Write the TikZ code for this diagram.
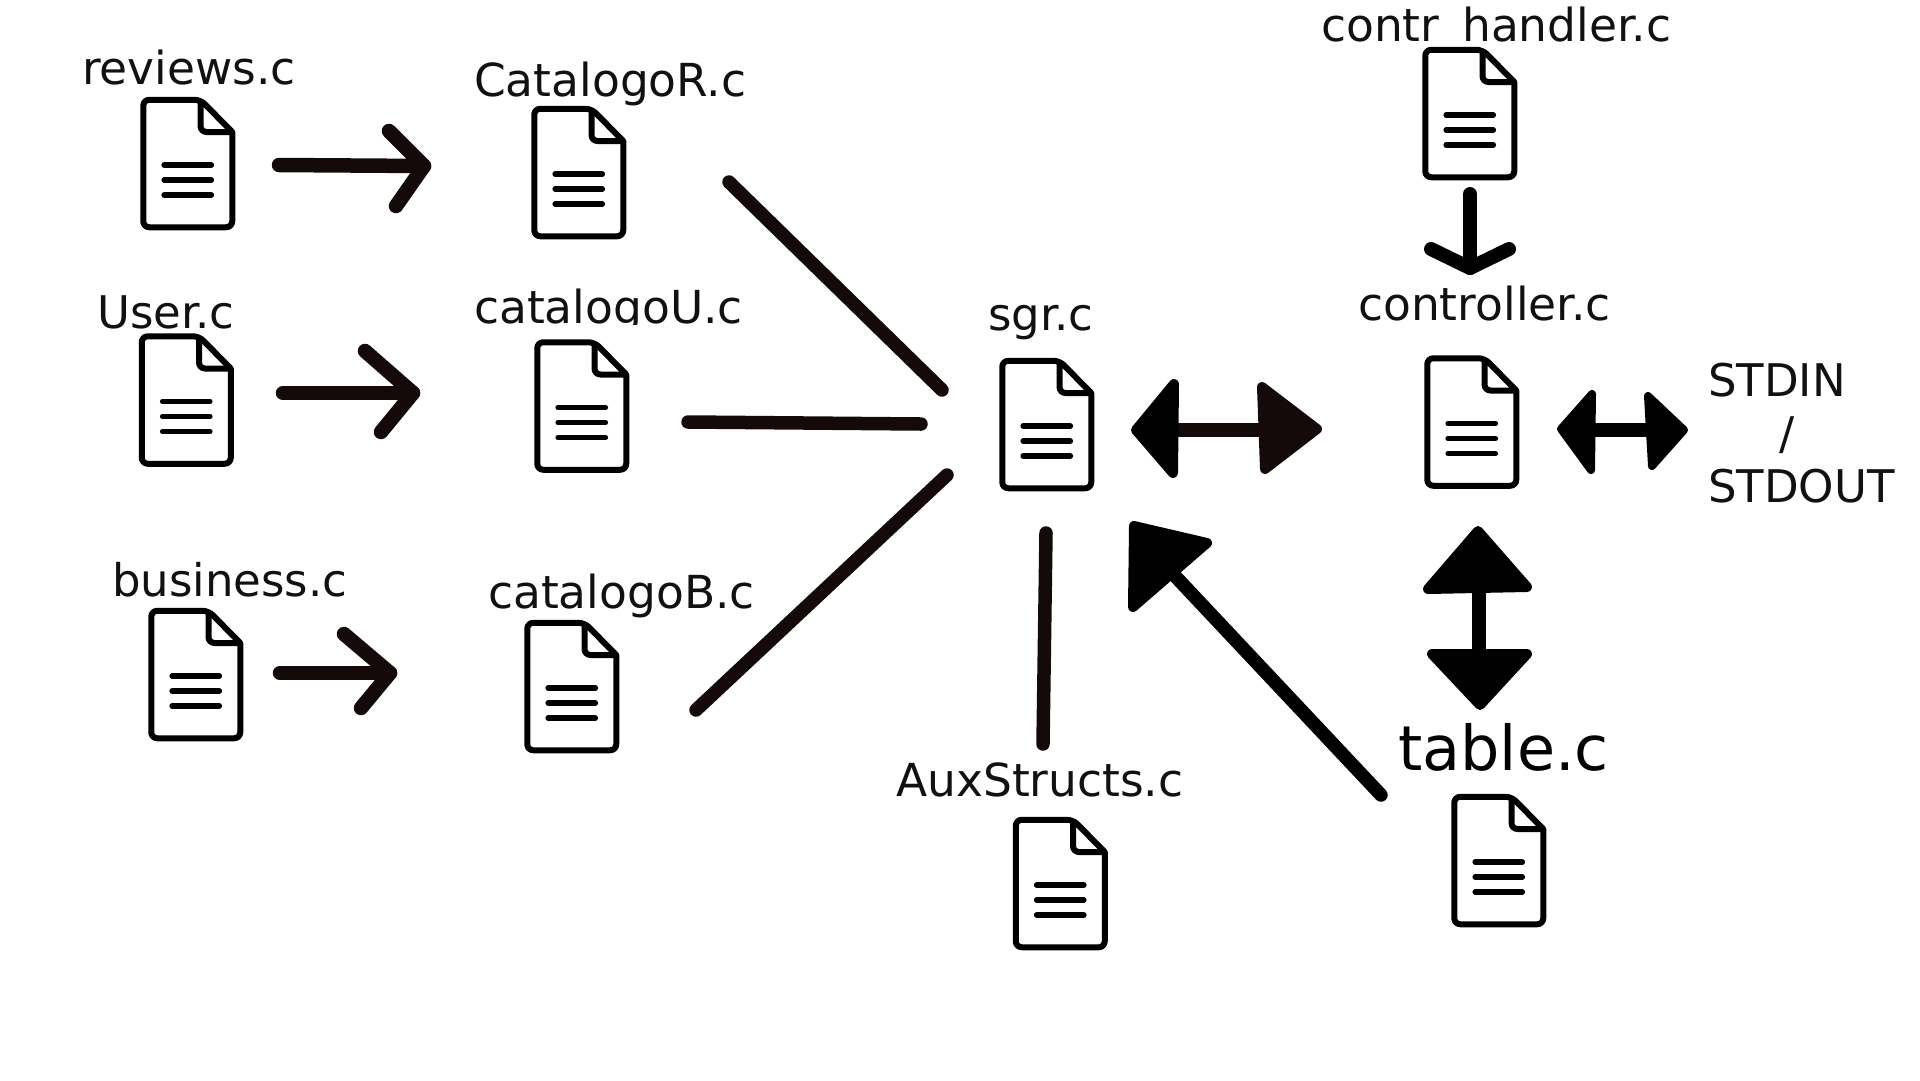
\documentclass[tikz,border=0pt]{standalone}
\usepackage{fontspec}
\setmainfont{DejaVu Sans}
\definecolor{ink}{HTML}{150A0A}
\definecolor{txt}{HTML}{111111}
\tikzset{
  docicon/.pic={
    \draw[fill=white,line width=6pt,rounded corners=6pt,line join=round]
      (91.75,35) -- (91.75,130.25) -- (2.75,130.25) -- (2.75,2.75) -- (60,2.75) [sharp corners] -- (91.75,35) -- cycle;
    \draw[line width=6pt,rounded corners=6pt] (60,3) -- (60,35) -- (91,35);
    \foreach \yy in {68,83,98} \draw[line width=5.2pt,line cap=round] (23.5,\yy) -- (71,\yy);
  },
  lbl/.style={inner sep=0pt,anchor=base west,text=txt,font=\fontsize{45.5}{54}\selectfont},
  lbls/.style={lbl,font=\fontsize{45}{54}\selectfont},
  thinarrow/.style={draw=ink,line width=14.5pt,line cap=round,line join=round},
  plainline/.style={draw=ink,line width=13.5pt,line cap=round},
  shaft/.style={draw=black,line width=13.5pt},
  headk/.style={draw=black,fill=black,line width=10pt,line join=round},
  headb/.style={draw=ink,fill=ink,line width=10pt,line join=round},
  mask/.style={fill=white,draw=none}
}
\begin{document}
\begin{tikzpicture}[x=1pt,y=-1pt]
\useasboundingbox (0,0) rectangle (1920,1080);
% labels
\node[lbl] (lreviews) at (82,84) {reviews.c};
\node[lbl] (lcatr) at (474,96) {CatalogoR.c};
\node[lbls] (luser) at (97,328) {User.c};
\node[lbl] (lcatu) at (474,323) {catalogoU.c};
\node[lbls] (lbus) at (112,596) {business.c};
\node[lbl] (lcatb) at (488,608) {catalogoB.c};
\node[lbls] (lsgr) at (988,330) {sgr.c};
\node[lbl] (lctrl) at (1358,320) {controller.c};
\node[lbl] (lhand) at (1321,41) {contr\_handler.c};
\node[lbl] (laux) at (896,796) {AuxStructs.c};
\node[lbl,font=\fontsize{62}{70}\selectfont,text=black] (ltab) at (1398,770) {table.c};
\node[lbls] (lstdin) at (1708,396) {STDIN};
\node[lbls] (lslash) at (1779,449) {/};
\node[lbls] (lstdout) at (1708,502) {STDOUT};
% white edges of the icon images that cut into the labels
\fill[mask] (480,325) rectangle (750,340);
\fill[mask] (1320,43) rectangle (1680,48);
% file icons
\pic (ireviews) at (140.5,97) {docicon};
\pic (icatr) at (531.5,106) {docicon};
\pic (iuser) at (139,333.5) {docicon};
\pic (icatu) at (534.5,339.5) {docicon};
\pic (ibus) at (148.5,608) {docicon};
\pic (icatb) at (524.5,620) {docicon};
\pic (isgr) at (999.5,358) {docicon};
\pic (ictrl) at (1424.5,355.5) {docicon};
\pic (ihand) at (1422.5,47) {docicon};
\pic (iaux) at (1013,817) {docicon};
\pic (itab) at (1451.5,794) {docicon};
% arrow anchors
\coordinate (a1s) at (279,165); \coordinate (a1t) at (424,166);
\coordinate (a1u) at (389,131); \coordinate (a1d) at (396,206);
\coordinate (a2s) at (283,393); \coordinate (a2t) at (413,393);
\coordinate (a2u) at (365,351); \coordinate (a2d) at (381,432);
\coordinate (a3s) at (280,673); \coordinate (a3t) at (390,673);
\coordinate (a3u) at (344,634); \coordinate (a3d) at (361,708);
\draw[thinarrow] (a1s) -- (a1t); \draw[thinarrow] (a1u) -- (a1t) -- (a1d);
\draw[thinarrow] (a2s) -- (a2t); \draw[thinarrow] (a2u) -- (a2t) -- (a2d);
\draw[thinarrow] (a3s) -- (a3t); \draw[thinarrow] (a3u) -- (a3t) -- (a3d);
% plain lines
\coordinate (p1a) at (729,182); \coordinate (p1b) at (942,390);
\coordinate (p2a) at (688,422); \coordinate (p2b) at (921,424);
\coordinate (p3a) at (696,710); \coordinate (p3b) at (947,475);
\coordinate (p4a) at (1046,533); \coordinate (p4b) at (1043,744);
\draw[plainline] (p1a) -- (p1b);
\draw[plainline] (p2a) -- (p2b);
\draw[plainline] (p3a) -- (p3b);
\draw[plainline] (p4a) -- (p4b);
% sgr <-> controller
\coordinate (d1a) at (1165,430); \coordinate (d1b) at (1270,430);
\draw[draw=ink,line width=13.5pt] (d1a) -- (d1b);
\draw[headk] (1136,430) -- (1174,384) -- (1173,473) -- cycle;
\draw[headb] (1262,387) -- (1317,429) -- (1265,469) -- cycle;
% controller <-> STDIN
\coordinate (d2a) at (1585,430); \coordinate (d2b) at (1655,430);
\draw[shaft] (d2a) -- (d2b);
\draw[headk,line width=8pt] (1561,429) -- (1592,394) -- (1591,470) -- cycle;
\draw[headk,line width=8pt] (1648,396) -- (1684,430) -- (1652,466) -- cycle;
% controller <-> table
\coordinate (d3a) at (1479,585); \coordinate (d3b) at (1479,655);
\draw[shaft] (d3a) -- (d3b);
\draw[headk] (1478,531) -- (1428,589) -- (1527,587) -- cycle;
\draw[headk] (1432,654) -- (1527,654) -- (1480,705) -- cycle;
% table -> sgr
\coordinate (b1a) at (1381,795); \coordinate (b1b) at (1176,577);
\draw[draw=black,line width=13.5pt,line cap=round] (b1a) -- (b1b);
\draw[headk] (1134,526) -- (1207,543) -- (1133,607) -- cycle;
% contr_handler -> controller
\coordinate (c1a) at (1470,194); \coordinate (c1b) at (1470,268);
\coordinate (c1l) at (1431,249); \coordinate (c1r) at (1509,249);
\draw[draw=black,line width=14pt,line cap=round,line join=round] (c1a) -- (c1b);
\draw[draw=black,line width=14pt,line cap=round,line join=round] (c1l) -- (c1b) -- (c1r);
\end{tikzpicture}
\end{document}
